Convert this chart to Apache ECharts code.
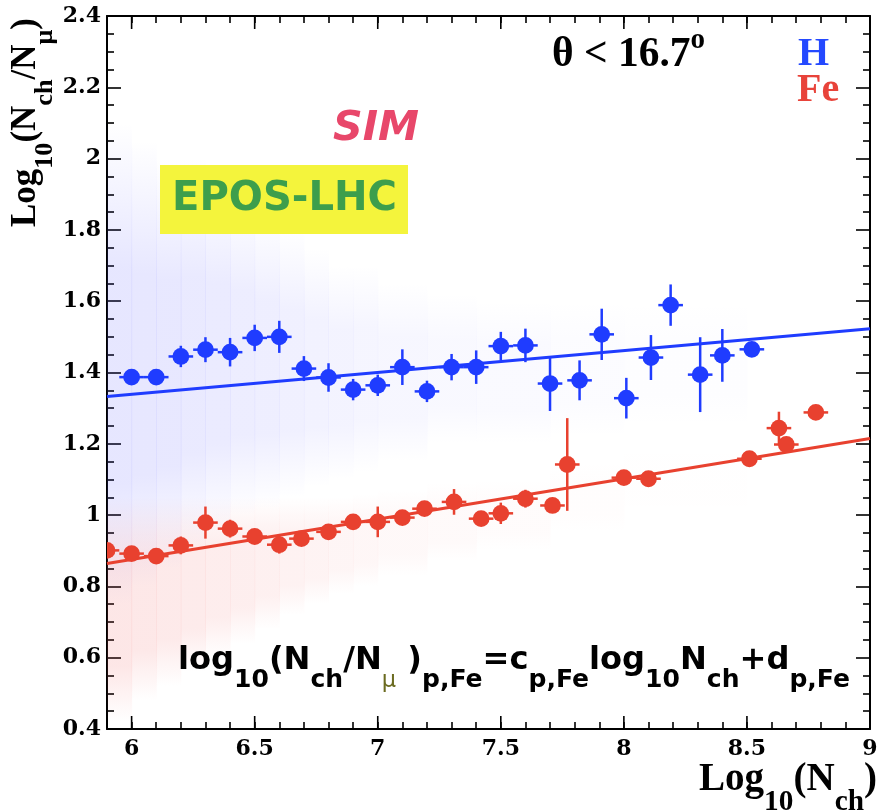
<!DOCTYPE html>
<html>
<head>
<meta charset="utf-8">
<script src="https://cdn.jsdelivr.net/npm/echarts@6/dist/echarts.min.js"></script>
<style>
html,body{margin:0;padding:0;background:#fff;}
#chart{width:886px;height:812px;}
</style>
</head>
<body>
<div id="chart"></div>
<script>
// ---------- data ----------
const xTickValues = [6, 6.5, 7, 7.5, 8, 8.5, 9];
const xTickLabels = ['6', '6.5', '7', '7.5', '8', '8.5', '9'];
const yTickValues = [0.4, 0.6, 0.8, 1, 1.2, 1.4, 1.6, 1.8, 2, 2.2, 2.4];
const yTickLabels = ['0.4', '0.6', '0.8', '1', '1.2', '1.4', '1.6', '1.8', '2', '2.2', '2.4'];

const blueX = [6.0, 6.1, 6.2, 6.3, 6.4, 6.5, 6.6, 6.7, 6.8, 6.9, 7.0, 7.1, 7.2, 7.3, 7.4, 7.5, 7.6, 7.7, 7.82, 7.91, 8.01, 8.11, 8.19, 8.31, 8.4, 8.52];
const blueY = [1.387, 1.387, 1.445, 1.464, 1.457, 1.497, 1.50, 1.411, 1.386, 1.352, 1.364, 1.415, 1.347, 1.415, 1.415, 1.474, 1.476, 1.369, 1.378, 1.507, 1.328, 1.442, 1.589, 1.394, 1.448, 1.465];
const blueErr = [0.02, 0.02, 0.03, 0.035, 0.04, 0.037, 0.045, 0.035, 0.04, 0.03, 0.03, 0.05, 0.03, 0.037, 0.047, 0.04, 0.047, 0.077, 0.056, 0.072, 0.057, 0.063, 0.058, 0.105, 0.074, 0.02];

const redX = [5.9, 6.0, 6.1, 6.2, 6.3, 6.4, 6.5, 6.6, 6.69, 6.8, 6.9, 7.0, 7.1, 7.19, 7.31, 7.42, 7.5, 7.6, 7.71, 7.77, 8.0, 8.1, 8.51, 8.63, 8.66, 8.78];
const redY = [0.901, 0.892, 0.885, 0.915, 0.979, 0.962, 0.94, 0.917, 0.934, 0.953, 0.981, 0.981, 0.993, 1.018, 1.037, 0.99, 1.005, 1.046, 1.027, 1.142, 1.105, 1.102, 1.158, 1.244, 1.198, 1.288];
const redErr = [0.02, 0.02, 0.02, 0.025, 0.045, 0.025, 0.02, 0.025, 0.02, 0.02, 0.02, 0.043, 0.02, 0.02, 0.036, 0.02, 0.03, 0.025, 0.02, 0.13, 0.02, 0.02, 0.02, 0.046, 0.02, 0.02];

const binHalfWidth = 0.05;

const blueFitX = [5.9, 9.0];
const blueFitY = [1.333, 1.523];
const redFitX = [5.9, 9.0];
const redFitY = [0.864, 1.215];

// simulated-event cloud, read as coarse density bands
const cloudEdges = [5.9, 6.0, 6.1, 6.2, 6.3, 6.4, 6.5, 6.6, 6.7, 6.8, 6.9, 7.0, 7.2, 7.4, 7.7, 8.0, 8.5];
const blueCloudLo = [0.75, 0.8, 0.85, 0.9, 0.95, 1.0, 1.02, 1.05, 1.08, 1.1, 1.12, 1.15, 1.2, 1.2, 1.22, 1.25];
const blueCloudHi = [2.1, 2.05, 2.0, 2.0, 1.95, 1.9, 1.85, 1.8, 1.75, 1.7, 1.7, 1.65, 1.62, 1.6, 1.6, 1.6];
const blueCloudDensity = [0.15, 0.145, 0.14, 0.13, 0.12, 0.11, 0.1, 0.09, 0.08, 0.07, 0.06, 0.05, 0.04, 0.03, 0.02, 0.012];
const redCloudLo = [0.42, 0.48, 0.52, 0.56, 0.6, 0.64, 0.68, 0.72, 0.75, 0.78, 0.8, 0.83, 0.87, 0.9, 0.95, 1.0];
const redCloudHi = [1.05, 1.05, 1.05, 1.05, 1.05, 1.05, 1.05, 1.05, 1.05, 1.05, 1.06, 1.07, 1.09, 1.1, 1.15, 1.2];
const redCloudDensity = [0.15, 0.14, 0.13, 0.12, 0.11, 0.1, 0.09, 0.08, 0.07, 0.06, 0.05, 0.04, 0.03, 0.02, 0.01, 0.005];

// ---------- styling ----------
const BLUE = '#1f3cff';
const RED = '#e8412f';

const chart = echarts.init(document.getElementById('chart'), null, {renderer: 'canvas'});

const mctx = document.createElement('canvas').getContext('2d');
function fontStr(style, weight, size, family) {
  return `${style} ${weight} ${size}px ${family}`;
}
function measure(t, f) { mctx.font = f; return mctx.measureText(t).width; }

// build a line of text with sub/superscripts; baseline at (x,y)
function textRun(parts, opt) {
  let size = opt.size;
  const fam = opt.family;
  const f = (p, sz) => fontStr(p.italic || opt.italic ? 'italic' : 'normal', p.weight || opt.weight || 'bold', sz * (p.s || 1), fam);
  let w = parts.reduce((a, p) => a + measure(p.t, f(p, size)), 0);
  if (opt.width) { size = size * opt.width / w; w = opt.width; }
  let cx = opt.anchor === 'right' ? -w : 0;
  const children = parts.map(p => {
    const fs = size * (p.s || 1);
    const font = f(p, size);
    const el = {
      type: 'text', x: cx, y: (p.dy || 0) * size - 0.3 * fs, z: 100,
      style: {text: p.t, font: font, fill: p.color || opt.color,
        align: 'left', textAlign: 'left', verticalAlign: 'middle', textVerticalAlign: 'middle'}
    };
    cx += measure(p.t, font);
    return el;
  });
  return {type: 'group', x: opt.x, y: opt.y, rotation: opt.rotation || 0, silent: true, z: 100, children};
}

const SERIF = '"Liberation Serif"';
const SANS = '"DejaVu Sans"';
const SUB = 0.75, SUBDY = 0.5;

const yTitle = textRun([
  {t: 'Log'}, {t: '10', s: SUB, dy: SUBDY}, {t: '(N'}, {t: 'ch', s: SUB, dy: SUBDY},
  {t: '/N'}, {t: 'μ', s: SUB, dy: SUBDY}, {t: ')'}
], {x: 36, y: 227, size: 26, family: SERIF, color: '#000', width: 209, rotation: Math.PI / 2});

const xTitle = textRun([
  {t: 'Log'}, {t: '10', s: SUB, dy: SUBDY}, {t: '(N'}, {t: 'ch', s: SUB, dy: SUBDY}, {t: ')'}
], {x: 877, y: 792, size: 26, family: SERIF, color: '#000', width: 178, anchor: 'right'});

const thetaText = textRun([
  {t: 'θ < 16.7'}, {t: 'o', s: 0.7, dy: -0.45}
], {x: 552, y: 68, size: 38, family: SERIF, color: '#000', width: 153});

const hText = textRun([{t: 'H'}], {x: 798, y: 67, size: 40, family: SERIF, color: '#2449ff'});
const feText = textRun([{t: 'Fe'}], {x: 797, y: 103, size: 40, family: SERIF, color: '#e8433a'});

const simText = textRun([{t: 'SIM'}], {x: 333, y: 142, size: 43, family: SANS, color: '#e8476a', italic: true, width: 86});

const eposText = textRun([{t: 'EPOS-LHC'}], {x: 172, y: 212, size: 40, family: SANS, color: '#3d9e4c', width: 225});

const formula = textRun([
  {t: 'log'}, {t: '10', s: 0.78, dy: 0.55}, {t: '(N'}, {t: 'ch', s: 0.78, dy: 0.55},
  {t: '/N'}, {t: 'μ', s: 0.7, dy: 0.55, weight: 'normal', color: '#6b6b20'}, {t: ' )'},
  {t: 'p,Fe', s: 0.78, dy: 0.55}, {t: '=c'}, {t: 'p,Fe', s: 0.78, dy: 0.55},
  {t: 'log'}, {t: '10', s: 0.78, dy: 0.55}, {t: 'N'}, {t: 'ch', s: 0.78, dy: 0.55},
  {t: '+d'}, {t: 'p,Fe', s: 0.78, dy: 0.55}
], {x: 178, y: 670, size: 28, family: SANS, color: '#000', width: 672});

// ---------- series helpers ----------
function errRender(color) {
  return function (params, api) {
    const x = api.value(0), y = api.value(1), ey = api.value(2);
    const c = api.coord([x, y]);
    const t = api.coord([x, y + ey]), b = api.coord([x, y - ey]);
    const l = api.coord([x - binHalfWidth, y]), r = api.coord([x + binHalfWidth, y]);
    return {
      type: 'group', children: [
        {type: 'line', shape: {x1: c[0], y1: t[1], x2: c[0], y2: b[1]}, style: {stroke: color, lineWidth: 2.5}},
        {type: 'line', shape: {x1: l[0], y1: c[1], x2: r[0], y2: c[1]}, style: {stroke: color, lineWidth: 2.5}},
        {type: 'circle', shape: {cx: c[0], cy: c[1], r: 8.4}, style: {fill: color}}
      ]
    };
  };
}
// each density band drawn as a soft vertical band
function cloudRender(rgb) {
  return function (params, api) {
    const x0 = api.value(0), x1 = api.value(1), lo = api.value(2), hi = api.value(3), d = api.value(4);
    const p0 = api.coord([x0, hi]), p1 = api.coord([x1, lo]);
    const col = a => `rgba(${rgb},${a})`;
    return {
      type: 'rect',
      shape: {x: p0[0], y: p0[1], width: p1[0] - p0[0] + 0.5, height: p1[1] - p0[1]},
      style: {fill: new echarts.graphic.LinearGradient(0, 0, 0, 1, [
        {offset: 0, color: col(0)}, {offset: 0.3, color: col(d)},
        {offset: 0.75, color: col(d)}, {offset: 1, color: col(0)}
      ])}
    };
  };
}

const blueData = blueX.map((x, i) => [x, blueY[i], blueErr[i]]);
const redData = redX.map((x, i) => [x, redY[i], redErr[i]]);
const blueCloud = blueCloudLo.map((lo, i) => [cloudEdges[i], cloudEdges[i + 1], lo, blueCloudHi[i], blueCloudDensity[i]]);
const redCloud = redCloudLo.map((lo, i) => [cloudEdges[i], cloudEdges[i + 1], lo, redCloudHi[i], redCloudDensity[i]]);

const labelFont = {fontFamily: '"DejaVu Serif"', fontWeight: 'bold', fontSize: 22, color: '#000'};
const axisLineStyle = {color: '#000', width: 2};
const tickStyle = {color: '#000', width: 1.6};

function xLabel(v) {
  const i = xTickValues.findIndex(t => Math.abs(t - v) < 1e-6);
  return i >= 0 ? xTickLabels[i] : '';
}
function yLabel(v) {
  const i = yTickValues.findIndex(t => Math.abs(t - v) < 1e-6);
  return i >= 0 ? yTickLabels[i] : '';
}

const option = {
  animation: false,
  backgroundColor: '#fff',
  grid: {left: 107, right: 16, top: 16, bottom: 83, containLabel: false},
  xAxis: [
    {type: 'value', min: 5.9, max: 9, interval: 0.1, position: 'bottom',
      axisLine: {onZero: false, lineStyle: axisLineStyle},
      axisTick: {inside: true, length: 7, lineStyle: tickStyle},
      axisLabel: Object.assign({formatter: xLabel, margin: 9, showMinLabel: true, showMaxLabel: true}, labelFont),
      splitLine: {show: false}},
    {type: 'value', min: 5.9, max: 9, interval: 0.1, position: 'top',
      axisLine: {onZero: false, lineStyle: axisLineStyle},
      axisTick: {inside: true, length: 7, lineStyle: tickStyle},
      axisLabel: {show: false}, splitLine: {show: false}}
  ],
  yAxis: [
    {type: 'value', min: 0.4, max: 2.4, interval: 0.2, position: 'left',
      axisLine: {onZero: false, show: true, lineStyle: axisLineStyle},
      axisTick: {show: true, inside: true, length: 14, lineStyle: tickStyle},
      minorTick: {show: true, splitNumber: 4, length: 7, lineStyle: tickStyle},
      axisLabel: Object.assign({formatter: yLabel, margin: 6}, labelFont),
      splitLine: {show: false}},
    {type: 'value', min: 0.4, max: 2.4, interval: 0.2, position: 'right',
      axisLine: {onZero: false, show: true, lineStyle: axisLineStyle},
      axisTick: {show: true, inside: true, length: 14, lineStyle: tickStyle},
      minorTick: {show: true, splitNumber: 4, length: 7, lineStyle: tickStyle},
      axisLabel: {show: false}, splitLine: {show: false}}
  ],
  series: [
    {type: 'custom', name: 'cloudH', renderItem: cloudRender('90,90,255'), data: blueCloud, z: 1, silent: true, clip: true},
    {type: 'custom', name: 'cloudFe', renderItem: cloudRender('240,90,90'), data: redCloud, z: 1, silent: true, clip: true},
    {type: 'line', name: 'fitH', data: blueFitX.map((x, i) => [x, blueFitY[i]]), showSymbol: false,
      lineStyle: {color: BLUE, width: 3}, z: 3, silent: true},
    {type: 'line', name: 'fitFe', data: redFitX.map((x, i) => [x, redFitY[i]]), showSymbol: false,
      lineStyle: {color: RED, width: 3}, z: 3, silent: true},
    {type: 'custom', name: 'H', renderItem: errRender(BLUE), data: blueData, z: 4, clip: true},
    {type: 'custom', name: 'Fe', renderItem: errRender(RED), data: redData, z: 4, clip: true},
    {type: 'custom', name: 'majorTicksX', silent: true, z: 5, clip: false,
      data: xTickValues.map(v => [v]),
      renderItem: function (params, api) {
        const b = api.coord([api.value(0), 0.4]);
        const t = api.coord([api.value(0), 2.4]);
        return {type: 'group', children: [
          {type: 'line', shape: {x1: b[0], y1: b[1], x2: b[0], y2: b[1] - 13}, style: {stroke: '#000', lineWidth: 1.6}},
          {type: 'line', shape: {x1: t[0], y1: t[1], x2: t[0], y2: t[1] + 13}, style: {stroke: '#000', lineWidth: 1.6}}
        ]};
      }}
  ],
  graphic: [
    {type: 'rect', shape: {x: 160, y: 165, width: 248, height: 69}, style: {fill: '#f4f43c'}, z: 10, silent: true},
    yTitle, xTitle, thetaText, hText, feText, simText, eposText, formula
  ]
};
chart.setOption(option);
</script>
</body>
</html>
